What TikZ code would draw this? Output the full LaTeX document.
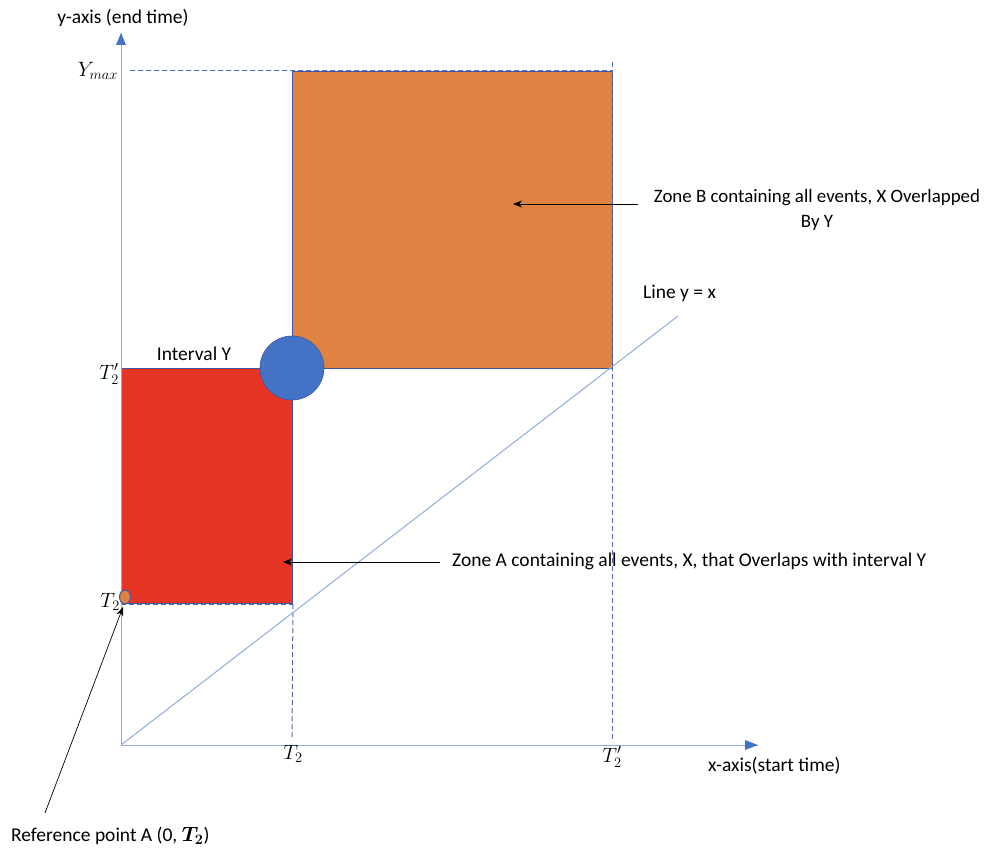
\documentclass[tikz,border=0pt]{standalone}
\usepackage{amsmath}
\usepackage{fontspec}
\setmainfont{Carlito}
\usetikzlibrary{arrows.meta,shapes.geometric}
\definecolor{axisblue}{HTML}{8FAADC}
\definecolor{dashblue}{HTML}{4F6AB0}
\definecolor{zoneorange}{HTML}{DF8242}
\definecolor{zonered}{HTML}{E63425}
\definecolor{circblue}{HTML}{4472C4}
\definecolor{edgeblue}{HTML}{3F56A0}
\tikzset{
  guide/.style={draw=dashblue, line width=1pt, dash pattern=on 5pt off 3pt},
  zonebox/.style={draw=edgeblue, line width=1pt, inner sep=0pt, anchor=north west},
  pointer/.style={draw=black, line width=0.7pt, -{Stealth[length=9pt,width=7pt]}},
  lbl/.style={font=\fontsize{19.5}{25}\selectfont, inner sep=0pt},
  mlbl/.style={font=\fontsize{21}{24}\selectfont, inner sep=0pt},
}
\begin{document}
\begin{tikzpicture}[x=1pt, y=-1pt]
\useasboundingbox (0,0) rectangle (987,848);
% zones
\node[zonebox, fill=zoneorange, minimum width=320pt, minimum height=297pt] (zoneB) at (292,71) {};
\node[zonebox, fill=zonered, minimum width=171pt, minimum height=235pt] (zoneA) at (121,368) {};
% guides
\coordinate (ymaxL) at (130,71);
\coordinate (topR) at (612,62);
\coordinate (t2pB) at (612,740);
\coordinate (t2B) at (292,740);
\draw[guide] (ymaxL) -- (zoneB.north east);
\draw[guide] (topR) -- (t2pB);
\draw[guide] (zoneA.south east) -- (t2B);
\draw[guide] (zoneA.south west) -- (zoneA.south east);
% axes
\coordinate (O) at (121,745);
\coordinate (ytip) at (121,33);
\coordinate (xtip) at (758,745);
\coordinate (diagEnd) at (678,316);
\draw[draw=axisblue, line width=1pt] (O) -- (diagEnd);
\draw[draw=axisblue, line width=1pt] (O) -- (ytip);
\draw[draw=axisblue, line width=1pt] (O) -- (xtip);
\fill[circblue] (ytip) -- ++(-5,12) -- ++(10,0) -- cycle;
\fill[circblue] (xtip) -- ++(-13,-5) -- ++(0,10) -- cycle;
% circles
\node[circle, fill=circblue, draw=edgeblue, line width=0.6pt, minimum size=64pt, inner sep=0pt] (bigc) at (292,368) {};
\node[ellipse, fill=zoneorange, draw=edgeblue, line width=1pt, minimum width=11pt, minimum height=14pt, inner sep=0pt] (smallc) at (125,597) {};
% labels
\node[lbl] (yaxis) at (123,18) {y-axis (end time)};
\node[mlbl, anchor=east] (ymax) at (118,71) {$Y_{max}$};
\node[mlbl, anchor=east] (t2pl) at (119,374) {$T_2'$};
\node[mlbl, anchor=east] (t2l) at (120,602) {$T_2$};
\node[lbl] (intY) at (194,354) {Interval Y};
\node[mlbl] (t2x) at (293,754) {$T_2$};
\node[mlbl] (t2px) at (612,757) {$T_2'$};
\node[lbl, anchor=west] (xaxis) at (708,766) {x-axis(start time)};
\node[lbl, anchor=west] (liney) at (643,293) {Line y = x};
\node[lbl, font=\fontsize{18.9}{25}\selectfont, align=center] (zoneBtxt) at (817,210) {Zone B containing all events, X Overlapped\\By Y};
\node[lbl, anchor=west] (zoneAtxt) at (452,561) {Zone A containing all events, X, that Overlaps with interval Y};
\node[lbl, anchor=west] (refp) at (11,836) {Reference point A (0, $\boldsymbol{T_2}$)};
% pointers
\coordinate (bArrowS) at (638,204);
\coordinate (bArrowE) at (513,204);
\coordinate (aArrowS) at (440,562);
\coordinate (aArrowE) at (283,562);
\coordinate (refS) at (45,813);
\coordinate (refE) at (123,607);
\draw[pointer] (bArrowS) -- (bArrowE);
\draw[pointer] (aArrowS) -- (aArrowE);
\draw[pointer] (refS) -- (refE);
\end{tikzpicture}
\end{document}
